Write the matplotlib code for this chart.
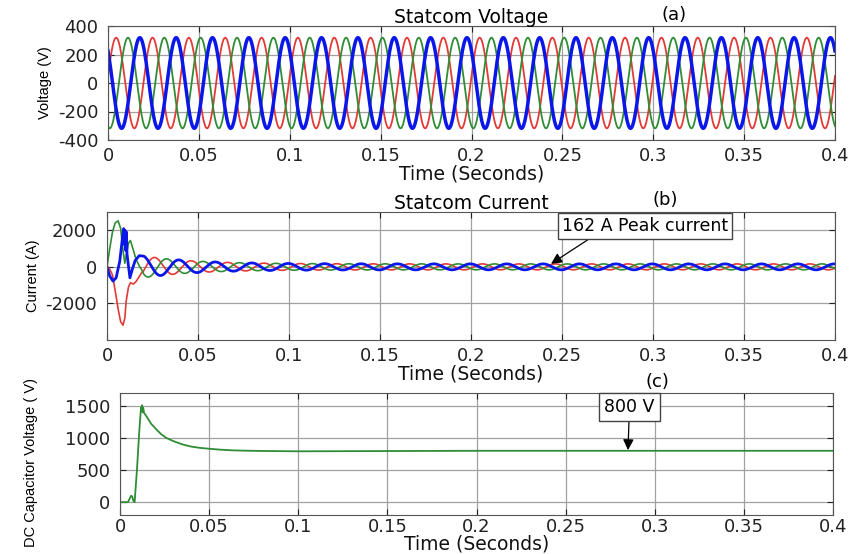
import numpy as np
import matplotlib
matplotlib.use("Agg")
import matplotlib.pyplot as plt

plt.rcParams['font.family'] = ['DejaVu Sans']
plt.rcParams['axes.unicode_minus'] = False

# ---- values ----
t_end = 0.4
freq = 50.0                        # Hz, both voltage and current

# (a) statcom voltage: amplitude and the time of the first peak of each phase
v_amp = 318.0
v_peak_red, v_peak_green, v_peak_blue = 0.0045, 0.0110, 0.0175

# (b) statcom current: start-up transient (read point by point)
i_tr_time = [0, 0.0015, 0.003, 0.0045, 0.0061, 0.0075, 0.0088, 0.0098, 0.0105,
             0.0118, 0.0129, 0.0145, 0.016, 0.018, 0.019]
i_tr_green = [0, 1000, 1900, 2400, 2520, 2100, 900, 200, 600,
              1300, 1440, 900, 400, 0, -150]
i_tr_red = [0, -120, -450, -1300, -2300, -3000, -3190, -2800, -1900,
            -1100, -870, -940, -800, -480, -330]
i_tr_blue_t = [0, 0.0015, 0.0033, 0.005, 0.007, 0.0085, 0.0092, 0.0096, 0.0099,
               0.0103, 0.0107, 0.011, 0.0126, 0.014, 0.0155, 0.0177, 0.019]
i_tr_blue = [0, -500, -780, -600, 300, 1600, 2090, 1200, 2000,
             900, 1900, 700, -600, -100, 350, 610, 600]
# after the transient: decaying sinusoid down to the 162 A steady peak
i_ss_amp = 162.0
i_start_amp = 600.0
i_decay = 0.028
i_start = 0.02
i_peak_blue, i_peak_red, i_peak_green = 0.0196, 0.0263, 0.0329

# (c) dc capacitor voltage
dc_time = [0, 0.0045, 0.0055, 0.0062, 0.0068, 0.0075, 0.0082, 0.0095, 0.0108,
           0.0118, 0.0121, 0.0124, 0.0127, 0.013, 0.0135, 0.015, 0.0175, 0.0205,
           0.023, 0.026, 0.03, 0.0354, 0.04, 0.045, 0.05, 0.056, 0.063, 0.07,
           0.08, 0.1, 0.15, 0.2, 0.3, 0.4]
dc_volt = [0, 0, 60, 100, 90, 20, 0, 500, 1100,
           1480, 1420, 1510, 1400, 1470, 1390, 1330, 1220, 1130,
           1060, 1000, 950, 896, 865, 845, 832, 818, 807, 802,
           797, 792, 796, 800, 800, 800]

xticks = [0, 0.05, 0.1, 0.15, 0.2, 0.25, 0.3, 0.35, 0.4]
xticklabels = ['0', '0.05', '0.1', '0.15', '0.2', '0.25', '0.3', '0.35', '0.4']

red, green, blue = '#e23a36', '#2f8d35', '#0b17e8'

t = np.linspace(0, t_end, 8001)
w = 2 * np.pi * freq

fig = plt.figure(figsize=(8.52, 5.54), dpi=100)
W, H = 852, 554


def add_axes(left, top, right, bottom):
    return fig.add_axes([left / W, 1 - bottom / H, (right - left) / W, (bottom - top) / H])


def style(ax, yticks, pad=5, labelpad=0):
    ax.set_xlim(0, t_end)
    ax.set_xticks(xticks)
    ax.set_xticklabels(xticklabels)
    ax.set_yticks(yticks)
    ax.grid(True, color='#a0a0a0', lw=0.9)
    ax.set_axisbelow(True)
    ax.tick_params(direction='in', length=4, top=True, right=True,
                   labelsize=13, colors='#222222')
    ax.tick_params(axis='x', pad=pad)
    ax.tick_params(axis='y', pad=7)
    for s in ax.spines.values():
        s.set_color('#555555')
    ax.set_xlabel('Time (Seconds)', fontsize=13.5, labelpad=labelpad, color='#111111')


# (a)
ax1 = add_axes(108, 26, 835, 140)
ax1.plot(t, v_amp * np.cos(w * (t - v_peak_red)), color=red, lw=1.3)
ax1.plot(t, v_amp * np.cos(w * (t - v_peak_green)), color=green, lw=1.3)
ax1.plot(t, v_amp * np.cos(w * (t - v_peak_blue)), color=blue, lw=2.5)
ax1.set_ylim(-400, 400)
style(ax1, [-400, -200, 0, 200, 400])
ax1.set_title('Statcom Voltage', fontsize=13.5, pad=2)
ax1.set_ylabel('Voltage (V)', family='Liberation Sans', fontsize=10.5)
fig.text(674 / W, 1 - 15 / H, '(a)', fontsize=13, ha='center', va='center')

# (b)
ax2 = add_axes(107, 212, 835, 340)
ts = t[t >= i_start]
env = i_ss_amp + (i_start_amp - i_ss_amp) * np.exp(-(ts - i_start) / i_decay)
for tr_t, tr_v, pk, c, lw in [(i_tr_time, i_tr_red, i_peak_red, red, 1.2),
                              (i_tr_time, i_tr_green, i_peak_green, green, 1.2),
                              (i_tr_blue_t, i_tr_blue, i_peak_blue, blue, 2.0)]:
    tt = np.concatenate([tr_t, ts])
    vv = np.concatenate([tr_v, env * np.cos(w * (ts - pk))])
    ax2.plot(tt, vv, color=c, lw=lw)
ax2.set_ylim(-4000, 3000)
style(ax2, [-2000, 0, 2000])
ax2.set_title('Statcom Current', fontsize=13.5, pad=2)
ax2.set_ylabel('Current (A)', family='Liberation Sans', fontsize=10.5)
fig.text(665 / W, 1 - 200 / H, '(b)', fontsize=13, ha='center', va='center')
ax2.annotate('162 A Peak current', xy=(0.244, 170), xytext=(0.2956, 2235),
             fontsize=12.5, ha='center', va='center',
             bbox=dict(boxstyle='square,pad=0.25', fc='white', ec='#444444', lw=1),
             arrowprops=dict(arrowstyle='-|>', color='black', lw=0.9,
                             mutation_scale=16, relpos=(0.2, 0.0), shrinkA=0, shrinkB=0))

# (c)
ax3 = add_axes(120, 393, 833, 515)
ax3.plot(dc_time, dc_volt, color=green, lw=1.3)
ax3.set_ylim(-200, 1700)
style(ax3, [0, 500, 1000, 1500], pad=2, labelpad=-1)
ax3.set_ylabel('DC Capacitor Voltage ( V)', family='Liberation Sans', fontsize=10.5)
ax3.yaxis.set_label_coords(-0.115, 0.43)
fig.text(657 / W, 1 - 382 / H, '(c)', fontsize=13, ha='center', va='center')
ax3.annotate('800 V', xy=(0.285, 810), xytext=(0.2858, 1482),
             fontsize=12.5, ha='center', va='center',
             bbox=dict(boxstyle='square,pad=0.3', fc='white', ec='#444444', lw=1),
             arrowprops=dict(arrowstyle='-|>', color='black', lw=0.9,
                             mutation_scale=16, shrinkA=0, shrinkB=0))

fig.savefig('out.png', dpi=100)
